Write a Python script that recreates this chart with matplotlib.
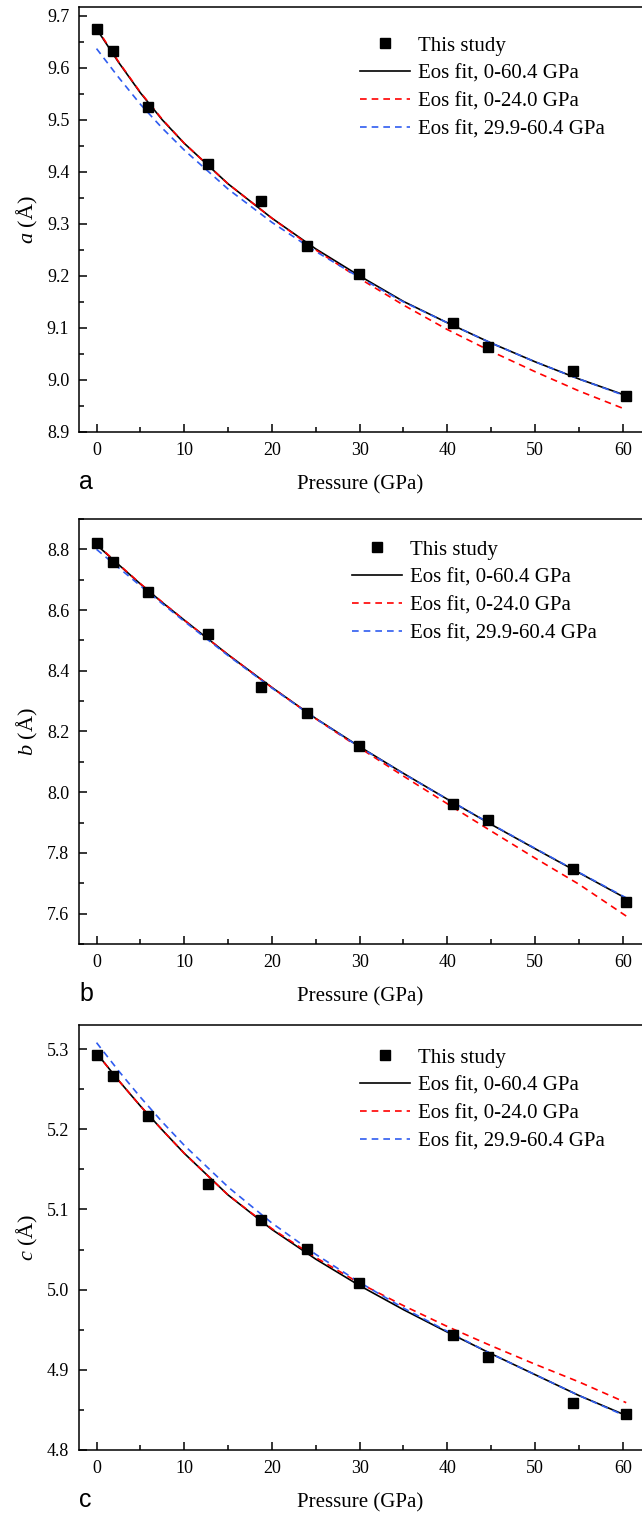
import matplotlib
matplotlib.use("Agg")
import matplotlib.pyplot as plt
from matplotlib.ticker import MultipleLocator

plt.rcParams['font.family'] = 'Liberation Serif'
plt.rcParams['mathtext.fontset'] = 'custom'
plt.rcParams['mathtext.it'] = 'Liberation Serif:italic'
plt.rcParams['mathtext.rm'] = 'Liberation Serif'

# measured lattice parameters
pressure = [0, 1.9, 5.9, 12.7, 18.7, 24.0, 29.9, 40.7, 44.6, 54.3, 60.4]
a_obs = [9.675, 9.632, 9.525, 9.416, 9.345, 9.257, 9.203, 9.109, 9.063, 9.017, 8.970]
b_obs = [8.820, 8.760, 8.660, 8.520, 8.348, 8.262, 8.153, 7.962, 7.908, 7.748, 7.640]
c_obs = [5.293, 5.266, 5.216, 5.132, 5.087, 5.051, 5.008, 4.943, 4.916, 4.858, 4.845]

# EoS fit curves
fit_p = [0, 2.5, 5, 7.5, 10, 15, 20, 25, 30, 35, 40, 45, 50, 55, 60.4]
a_fit_all = [9.675, 9.611, 9.552, 9.500, 9.455, 9.377, 9.311, 9.252, 9.200, 9.151, 9.110, 9.071, 9.035, 9.002, 8.970]
a_fit_low = [9.677, 9.612, 9.553, 9.501, 9.455, 9.377, 9.311, 9.250, 9.195, 9.144, 9.097, 9.055, 9.016, 8.979, 8.943]
a_fit_high = [9.637, 9.582, 9.530, 9.484, 9.442, 9.367, 9.303, 9.247, 9.197, 9.150, 9.110, 9.071, 9.035, 9.002, 8.969]
b_fit_all = [8.815, 8.750, 8.686, 8.625, 8.567, 8.453, 8.345, 8.243, 8.150, 8.062, 7.977, 7.894, 7.814, 7.735, 7.650]
b_fit_low = [8.817, 8.751, 8.687, 8.626, 8.567, 8.453, 8.345, 8.242, 8.146, 8.053, 7.962, 7.872, 7.783, 7.697, 7.592]
b_fit_high = [8.800, 8.740, 8.680, 8.621, 8.563, 8.450, 8.343, 8.242, 8.149, 8.061, 7.977, 7.895, 7.815, 7.736, 7.652]
c_fit_all = [5.295, 5.261, 5.229, 5.199, 5.170, 5.118, 5.075, 5.038, 5.005, 4.975, 4.947, 4.920, 4.894, 4.868, 4.843]
c_fit_low = [5.295, 5.261, 5.229, 5.199, 5.170, 5.118, 5.076, 5.040, 5.008, 4.980, 4.954, 4.930, 4.907, 4.885, 4.859]
c_fit_high = [5.308, 5.273, 5.240, 5.209, 5.180, 5.128, 5.083, 5.044, 5.009, 4.977, 4.948, 4.920, 4.894, 4.868, 4.842]

labels = ["This study", "Eos fit, 0-60.4 GPa", "Eos fit, 0-24.0 GPa", "Eos fit, 29.9-60.4 GPa"]

W, H = 642, 1513
fig = plt.figure(figsize=(W / 100, H / 100), dpi=100)


def panel(top_px, obs, fit_all, fit_low, fit_high, ylim, ystep, ylabel, letter, leg_xy):
    ax = fig.add_axes([79 / W, 1 - (top_px + 425) / H, 1 - 79 / W, 425 / H])
    pts, = ax.plot(pressure, obs, 's', color='black', ms=7, zorder=5)
    l1, = ax.plot(fit_p, fit_all, '-', color='black', lw=1.2)
    l2, = ax.plot(fit_p, fit_low, color='#ff0000', lw=1.2, ls=(0, (4, 3)))
    l3, = ax.plot(fit_p, fit_high, color='#2f5cf0', lw=1.2, ls=(0, (4, 3)))
    ax.set_xlim(-2, 62.2)
    ax.set_ylim(*ylim)
    ax.xaxis.set_major_locator(MultipleLocator(10))
    ax.xaxis.set_minor_locator(MultipleLocator(5))
    ax.yaxis.set_major_locator(MultipleLocator(ystep))
    ax.yaxis.set_minor_locator(MultipleLocator(ystep / 2))
    ax.tick_params(which='both', direction='in', top=False, right=False, labelsize=13, pad=7, width=1.1)
    ax.tick_params(which='major', length=6)
    ax.tick_params(which='minor', length=3.5)
    ax.spines['right'].set_visible(False)
    for s in ['left', 'bottom', 'top']:
        ax.spines[s].set_linewidth(1.1)
    ax.set_xlabel("Pressure (GPa)", fontsize=15, labelpad=12)
    ax.set_ylabel(ylabel, fontsize=16, labelpad=5)
    fig.text(79 / W, 1 - (top_px + 475) / H, letter, family='Liberation Sans', fontsize=18, va='center', ha='left')
    ax.legend([pts, l1, l2, l3], labels, loc='upper left', frameon=False, fontsize=15,
              bbox_to_anchor=(leg_xy[0] / W, 1 - leg_xy[1] / H), bbox_transform=fig.transFigure,
              borderpad=0, borderaxespad=0, handlelength=2.4, handletextpad=0.4, labelspacing=0.4)
    return ax


panel(7, a_obs, a_fit_all, a_fit_low, a_fit_high, (8.9, 9.717), 0.1, r"$a$ (Å)", "a", (360, 36))
panel(519, b_obs, b_fit_all, b_fit_low, b_fit_high, (7.5, 8.9), 0.2, r"$b$ (Å)", "b", (352, 540))
panel(1025, c_obs, c_fit_all, c_fit_low, c_fit_high, (4.8, 5.33), 0.1, r"$c$ (Å)", "c", (360, 1048))

fig.savefig("out.png", dpi=100)
